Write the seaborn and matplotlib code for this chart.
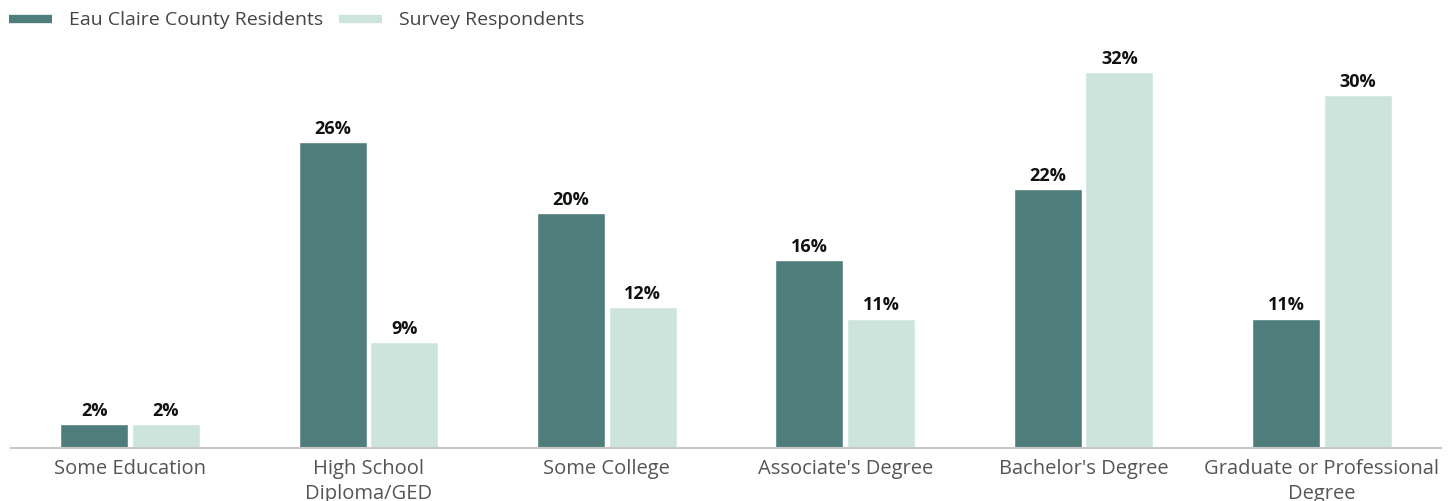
import pandas as pd
import matplotlib.pyplot as plt
import seaborn as sns
from matplotlib.lines import Line2D

categories = ['Some Education', 'High School\nDiploma/GED', 'Some College',
              "Associate's Degree", "Bachelor's Degree", 'Graduate or Professional\nDegree']
residents = [2, 26, 20, 16, 22, 11]
respondents = [2, 9, 12, 11, 32, 30]
series = ['Eau Claire County Residents', 'Survey Respondents']
colors = ['#4f7d7b', '#cde4dd']

df = pd.DataFrame({
    'cat': categories * 2,
    'val': residents + respondents,
    'group': [series[0]] * 6 + [series[1]] * 6,
})

sns.set_style('white')
plt.rcParams['font.family'] = ['Open Sans', 'DejaVu Sans']

fig = plt.figure(figsize=(14.55, 5.01), dpi=100)
ax = fig.add_axes([11 / 1455, 53 / 501, 1430 / 1455, 408 / 501])

sns.barplot(data=df, x='cat', y='val', hue='group', palette=colors,
            width=0.6, gap=0.05, saturation=1, ax=ax, legend=False)

for cont in ax.containers:
    ax.bar_label(cont, labels=[f'{v:.0f}%' for v in cont.datavalues],
                 padding=3, fontsize=13, fontweight='bold', color='#111111')

ax.set_ylim(0, 34.7)
ax.set_xlim(-0.5, 5.5)
ax.set_xlabel('')
ax.set_ylabel('')
ax.set_yticks([])
for s in ['top', 'right', 'left']:
    ax.spines[s].set_visible(False)
ax.spines['bottom'].set_color('#c8c8c8')
ax.spines['bottom'].set_linewidth(1.5)
ax.tick_params(axis='x', length=0, pad=8, labelsize=14.5, labelcolor='#555555')
for t in ax.get_xticklabels():
    t.set_linespacing(1.3)

handles = [Line2D([0], [0], color=c, lw=6, solid_capstyle='butt') for c in colors]
fig.legend(handles, series, loc='upper left', bbox_to_anchor=(-0.006, 1.012),
           ncol=2, frameon=False, fontsize=14, labelcolor='#444444',
           handlelength=2.2, handletextpad=0.9, columnspacing=0.8)

fig.savefig('out.png', dpi=100)
